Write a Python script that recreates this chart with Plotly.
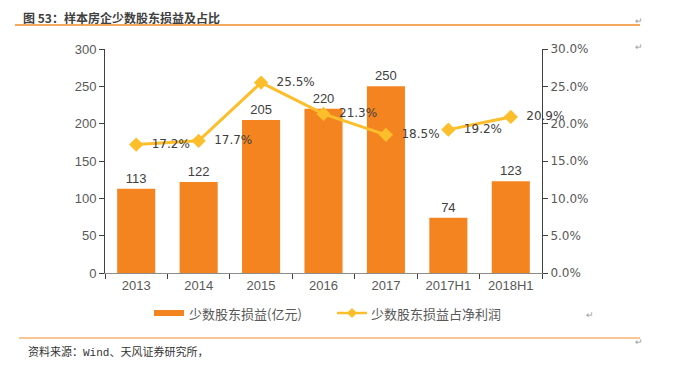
import plotly.graph_objects as go

categories = ["2013", "2014", "2015", "2016", "2017", "2017H1", "2018H1"]
minority_profit = [113, 122, 205, 220, 250, 74, 123]
ratio_annual_cats = ["2013", "2014", "2015", "2016", "2017"]
ratio_annual = [0.172, 0.177, 0.255, 0.213, 0.185]
ratio_half_cats = ["2017H1", "2018H1"]
ratio_half = [0.192, 0.209]

OFF = 8  # page body margin
W, H = 678 - OFF, 367 - OFF
L, T = 105 - OFF, 49 - OFF
R = W - (542 - OFF)
B = H - (273 - OFF)
PW, PH = W - L - R, H - T - B

def px(x):
    return (x - OFF - L) / PW

def py(y):
    return (H - B - (y - OFF)) / PH

BAR = "#F48420"
LINE = "#FDBE2B"
GREY = "#595959"
PAD = "\u00a0\u00a0"

fig = go.Figure()
fig.add_trace(go.Bar(
    x=categories, y=minority_profit, name="少数股东损益(亿元)",
    marker=dict(color=BAR, line=dict(width=0)),
    text=[str(v) for v in minority_profit], textposition="outside",
    textfont=dict(family="Liberation Sans", size=13, color="#404040"),
    cliponaxis=False, showlegend=False,
))
line_style = dict(color=LINE, width=3)
marker_style = dict(symbol="diamond", size=11, color=LINE)
fig.add_trace(go.Scatter(
    x=ratio_annual_cats, y=ratio_annual, yaxis="y2", mode="lines+markers+text",
    name="少数股东损益占净利润", showlegend=False,
    line=line_style, marker=marker_style,
    text=[f"{PAD}{v*100:.1f}%" for v in ratio_annual], textposition="middle right",
    textfont=dict(family="DejaVu Sans", size=12, color="#404040"),
    cliponaxis=False,
))
fig.add_trace(go.Scatter(
    x=ratio_half_cats, y=ratio_half, yaxis="y2", mode="lines+markers+text",
    name="少数股东损益占净利润", showlegend=False,
    line=line_style, marker=marker_style,
    text=[f"{PAD}{v*100:.1f}%" for v in ratio_half], textposition="middle right",
    textfont=dict(family="DejaVu Sans", size=12, color="#404040"),
    cliponaxis=False,
))

fig.update_layout(
    width=W, height=H,
    margin=dict(l=L, r=R, t=T, b=B, autoexpand=False),
    paper_bgcolor="white", plot_bgcolor="white",
    bargap=0.39,
    font=dict(family="Liberation Sans", color=GREY, size=13),
    showlegend=False,
    xaxis=dict(
        type="category", showgrid=False, showline=True, linecolor="#8C8C8C", linewidth=1,
        ticks="outside", tickson="boundaries", ticklen=5, tickcolor="#404040",
        tickfont=dict(family="Liberation Sans", size=13, color=GREY),
    ),
    yaxis=dict(
        range=[0, 300], dtick=50, showgrid=False, showline=True, linecolor="#404040",
        ticks="outside", ticklen=5, tickcolor="#404040", zeroline=False,
        tickfont=dict(family="Liberation Sans", size=13, color=GREY),
    ),
    yaxis2=dict(
        range=[0, 0.3], dtick=0.05, tickformat=".1%", overlaying="y", side="right",
        showgrid=False, showline=True, linecolor="#404040", ticks="outside", ticklen=5,
        tickcolor="#404040", zeroline=False,
        tickfont=dict(family="DejaVu Sans", size=12, color=GREY),
    ),
)

# manual legend
fig.add_shape(type="rect", xref="paper", yref="paper", x0=px(154), x1=px(184),
              y0=py(316), y1=py(310), fillcolor=BAR, line=dict(width=0))
fig.add_annotation(text="少数股东损益(亿元)", xref="paper", yref="paper", x=px(187), y=py(313),
                   xanchor="left", yanchor="middle", showarrow=False,
                   font=dict(family="Noto Sans CJK SC", size=13, color=GREY))
fig.add_shape(type="line", xref="paper", yref="paper", x0=px(337), x1=px(367),
              y0=py(313), y1=py(313), line=dict(color=LINE, width=2.5))
fig.add_shape(type="path", xref="paper", yref="paper",
              path=f"M {px(352)},{py(308)} L {px(357)},{py(313)} L {px(352)},{py(318)} L {px(347)},{py(313)} Z",
              fillcolor=LINE, line=dict(width=0))
fig.add_annotation(text="少数股东损益占净利润", xref="paper", yref="paper", x=px(369), y=py(313),
                   xanchor="left", yanchor="middle", showarrow=False,
                   font=dict(family="Noto Sans CJK SC", size=13, color=GREY))

fig.add_shape(type="line", xref="paper", yref="paper", x0=px(15), x1=px(640),
              y0=py(25), y1=py(25), line=dict(color="#F28C28", width=1.5))
fig.add_shape(type="line", xref="paper", yref="paper", x0=px(19), x1=px(640),
              y0=py(338), y1=py(338), line=dict(color="#F28C28", width=1))

fig.add_annotation(text="<b>图 53：样本房企少数股东损益及占比</b>", xref="paper", yref="paper",
                   x=px(22), y=py(OFF), xanchor="left", yanchor="top", showarrow=False,
                   borderpad=0,
                   font=dict(family="Noto Sans CJK SC", size=12, color="#404040"))
fig.add_annotation(text="资料来源：<span style='font-family:Liberation Mono'>Wind</span>、天风证券研究所，",
                   xref="paper", yref="paper",
                   x=px(26), y=py(351), xanchor="left", yanchor="middle", showarrow=False,
                   font=dict(family="Noto Sans CJK SC", size=11, color="#333333"))
for (ax, ay) in [(645, 14), (645, 40), (596, 322), (645, 349)]:
    fig.add_annotation(text="↵", xref="paper", yref="paper", x=px(ax), y=py(ay),
                       showarrow=False, font=dict(size=9, color="#999999"))

fig.write_html("out.html")
